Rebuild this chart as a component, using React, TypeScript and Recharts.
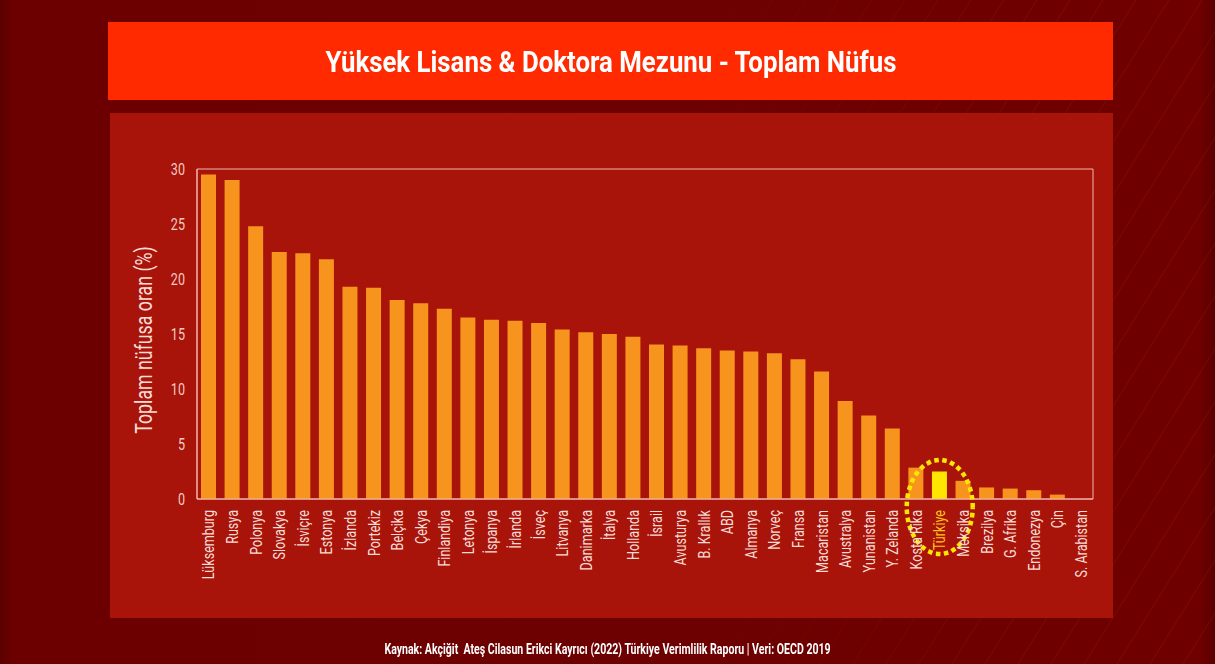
import React from 'react';
import { BarChart, Bar, XAxis, YAxis, Cell, ReferenceDot, ReferenceArea, Label } from 'recharts';

const countries = [
  'Lüksemburg', 'Rusya', 'Polonya', 'Slovakya', 'İsviçre', 'Estonya', 'İzlanda', 'Portekiz',
  'Belçika', 'Çekya', 'Finlandiya', 'Letonya', 'İspanya', 'İrlanda', 'İsveç', 'Litvanya',
  'Danimarka', 'İtalya', 'Hollanda', 'İsrail', 'Avusturya', 'B. Krallık', 'ABD', 'Almanya',
  'Norveç', 'Fransa', 'Macaristan', 'Avustralya', 'Yunanistan', 'Y. Zelanda', 'Kosta Rika',
  'Türkiye', 'Meksika', 'Brezilya', 'G. Afrika', 'Endonezya', 'Çin', 'S. Arabistan',
];
const values = [
  29.5, 29.0, 24.8, 22.45, 22.35, 21.8, 19.3, 19.2,
  18.1, 17.8, 17.3, 16.5, 16.3, 16.2, 16.0, 15.4,
  15.15, 15.0, 14.75, 14.05, 13.95, 13.7, 13.5, 13.4,
  13.25, 12.7, 11.6, 8.9, 7.6, 6.4, 2.85,
  2.5, 1.65, 1.05, 0.95, 0.8, 0.4, 0,
];
const yTicks = [0, 5, 10, 15, 20, 25, 30];
const highlight = 'Türkiye';
const titleText = 'Yüksek Lisans & Doktora Mezunu - Toplam Nüfus';
const yLabelText = 'Toplam nüfusa oran (%)';
const sourceText = 'Kaynak: Akçiğit  Ateş Cilasun Erikci Kayrıcı (2022) Türkiye Verimlilik Raporu | Veri: OECD 2019';

const data = countries.map((name, i) => ({ name, value: values[i] }));

const FONT = 'Roboto, "Liberation Sans", sans-serif';
const SQ = 0.74;
const BAR = '#f7941d';
const BAR_HL = '#ffe600';
const FRAME = '#efb9ae';

function XTick(props: any) {
  const { x, y, payload } = props;
  const isH = payload.value === highlight;
  return (
    <text
      x={0}
      y={0}
      transform={`translate(${x},${y + 3}) rotate(-90) scale(${SQ},1)`}
      textAnchor="end"
      dominantBaseline="central"
      fill={isH ? '#ffc21a' : '#f6dcd4'}
      fontSize={17}
      fontFamily={FONT}
    >
      {payload.value}
    </text>
  );
}

function YTick(props: any) {
  const { x, y, payload } = props;
  return (
    <text
      x={0}
      y={0}
      transform={`translate(${x + 3},${y}) scale(${SQ},1)`}
      textAnchor="end"
      dominantBaseline="central"
      fill="#f3cbc1"
      fontSize={17}
      fontFamily={FONT}
    >
      {payload.value}
    </text>
  );
}

function YLabel(props: any) {
  const vb = props.viewBox || {};
  const cx = vb.x + 26;
  const cy = vb.y + vb.height / 2 + 6;
  return (
    <text
      x={0}
      y={0}
      transform={`translate(${cx},${cy}) rotate(-90) scale(${SQ},1)`}
      textAnchor="middle"
      dominantBaseline="central"
      fill="#f8ddd6"
      fontSize={24}
      fontFamily={FONT}
    >
      {yLabelText}
    </text>
  );
}

function Ellipse(props: any) {
  const { cx, cy } = props;
  return (
    <ellipse
      cx={cx}
      cy={cy + 8}
      rx={33}
      ry={47}
      fill="none"
      stroke="#ffe600"
      strokeWidth={4.5}
      strokeDasharray="0.1 8"
      strokeLinecap="square"
    />
  );
}

export default function App() {
  return (
    <div
      style={{
        position: 'absolute',
        left: 0,
        top: 0,
        width: 1215,
        height: 664,
        overflow: 'hidden',
        background: 'linear-gradient(90deg, #5a0000 0px, #6c0000 12px, #6e0000 1200px, #5a0000 1215px)',
        fontFamily: FONT,
      }}
    >
      <div
        style={{
          position: 'absolute',
          left: 0,
          top: 0,
          width: 1215,
          height: 664,
          background:
            'repeating-linear-gradient(-58deg, rgba(255,80,60,0) 0px, rgba(255,80,60,0) 26px, rgba(255,90,70,0.10) 27px, rgba(255,80,60,0) 28px)',
          WebkitMaskImage: 'linear-gradient(90deg, transparent 0%, transparent 55%, black 85%)',
          maskImage: 'linear-gradient(90deg, transparent 0%, transparent 55%, black 85%)',
        }}
      />
      <div
        style={{
          position: 'absolute',
          left: 108,
          top: 22,
          width: 1005,
          height: 78,
          background: '#ff2a00',
          display: 'flex',
          alignItems: 'center',
          justifyContent: 'center',
          color: '#ffffff',
        }}
      >
        <span style={{ display: 'inline-block', fontWeight: 'bold', fontSize: 30, transform: 'scaleX(0.86)', whiteSpace: 'nowrap' }}>
          {titleText}
        </span>
      </div>
      <div
        style={{
          position: 'absolute',
          left: 110,
          top: 113,
          width: 1003,
          height: 505,
          background: '#a8130a',
        }}
      />
      <div
        style={{
          position: 'absolute',
          left: 0,
          top: 639,
          width: 1215,
          textAlign: 'center',
          color: '#ffffff',
        }}
      >
        <span style={{ display: 'inline-block', fontWeight: 'bold', fontSize: 14, transform: 'scaleX(0.755)', whiteSpace: 'pre' }}>
          {sourceText}
        </span>
      </div>
      <div style={{ position: 'absolute', left: 0, top: 0 }}>
        <BarChart
          width={1215}
          height={664}
          data={data}
          margin={{ top: 169, right: 122, left: 117, bottom: 45 }}
        >
          <ReferenceArea y1={0} y2={30} fill="none" stroke={FRAME} strokeWidth={1} ifOverflow="visible" />
          <XAxis
            dataKey="name"
            interval={0}
            height={120}
            axisLine={{ stroke: FRAME, strokeWidth: 1 }}
            tickLine={false}
            tick={<XTick />}
          />
          <YAxis
            domain={[0, 30]}
            ticks={yTicks}
            width={80}
            axisLine={{ stroke: FRAME, strokeWidth: 1 }}
            tickLine={false}
            tickMargin={9}
            tick={<YTick />}
          >
            <Label content={<YLabel />} />
          </YAxis>
          <Bar dataKey="value" barSize={15} isAnimationActive={false}>
            {data.map((d) => (
              <Cell key={d.name} fill={d.name === highlight ? BAR_HL : BAR} />
            ))}
          </Bar>
          <ReferenceDot x={highlight} y={0} r={1} shape={<Ellipse />} ifOverflow="visible" />
        </BarChart>
      </div>
    </div>
  );
}
